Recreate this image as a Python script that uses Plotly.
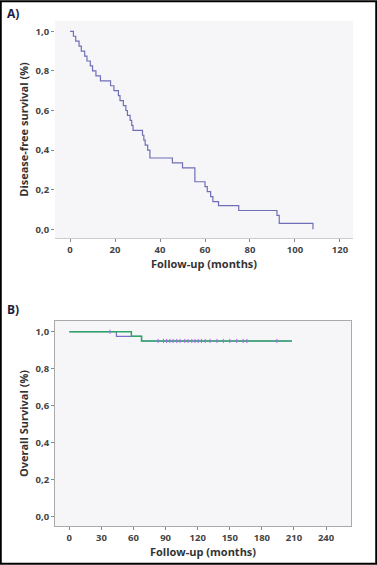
import plotly.graph_objects as go

# Panel A: disease-free survival (Kaplan-Meier steps)
dfs_months = [0, 1.5, 2.5, 4, 5, 6.5, 7.5, 9, 10, 11.5, 13.5, 18, 19.5, 21.5, 22.2, 23.7,
              24.8, 25.5, 26.7, 27.4, 28, 32.2, 32.8, 33.4, 34.5, 35.5, 45.5, 50, 55.5,
              60, 61, 62.5, 63.5, 66, 75, 92, 93, 108]
dfs_surv = [1.0, 0.975, 0.95, 0.925, 0.90, 0.875, 0.85, 0.825, 0.80, 0.775, 0.75, 0.725,
            0.70, 0.675, 0.65, 0.625, 0.60, 0.575, 0.55, 0.525, 0.50, 0.475, 0.45, 0.425,
            0.40, 0.36, 0.335, 0.31, 0.24, 0.215, 0.19, 0.165, 0.14, 0.12, 0.095, 0.07,
            0.03, 0.0]

# Panel B: overall survival, two overlapping curves
os_green_months = [0, 58, 67.5, 208]
os_green_surv = [1.0, 0.975, 0.95, 0.95]
os_purple_months = [0, 44, 67.5, 208]
os_purple_surv = [1.0, 0.975, 0.95, 0.95]
censor_months = [38, 83, 88, 91, 94, 97, 100.5, 103.5, 108, 111, 114.5, 117.5, 120.5,
                 123.5, 127, 131.5, 138, 144, 150, 156.5, 162.5, 166, 194]
censor_surv = [1.0] + [0.95] * 22

a_xticks = [0, 20, 40, 60, 80, 100, 120]
b_xticks = [0, 30, 60, 90, 120, 150, 180, 210, 240]
y_ticks = [0.0, 0.2, 0.4, 0.6, 0.8, 1.0]

W, H = 377, 565
def px(v, total):
    return v / total

FONT = "Open Sans"
TICKFONT = dict(family=FONT, size=9.5, color="#444444", weight="bold")
TITLEFONT = dict(family=FONT, size=11, color="#333333", weight="bold")
PURPLE = "#6f6fb8"
GREEN = "#2fa56a"
BG = "#f6f6f8"

fig = go.Figure()

fig.add_trace(go.Scatter(x=dfs_months, y=dfs_surv, mode="lines", line_shape="hv",
                         line=dict(color=PURPLE, width=1.2), xaxis="x", yaxis="y",
                         showlegend=False))

fig.add_trace(go.Scatter(x=os_purple_months, y=os_purple_surv, mode="lines", line_shape="hv",
                         line=dict(color="#7c6fc6", width=1.2), xaxis="x2", yaxis="y2",
                         showlegend=False))
fig.add_trace(go.Scatter(x=os_green_months, y=os_green_surv, mode="lines", line_shape="hv",
                         line=dict(color=GREEN, width=1.5), xaxis="x2", yaxis="y2",
                         showlegend=False))
fig.add_trace(go.Scatter(x=censor_months, y=censor_surv, mode="markers",
                         marker=dict(symbol="line-ns-open", size=3,
                                     line=dict(color="#2a6a6a", width=1)),
                         xaxis="x2", yaxis="y2", showlegend=False))

axcommon = dict(showgrid=False, zeroline=False, ticks="outside", ticklen=3, tickwidth=1,
                tickcolor="#888888", tickfont=TICKFONT)

fig.update_layout(
    width=W, height=H,
    margin=dict(l=0, r=0, t=0, b=0),
    paper_bgcolor="white",
    separators=",.",
    xaxis=dict(domain=[px(55, W), px(353, W)], range=[-6.7, 125.8], anchor="y",
               tickvals=a_xticks, showline=True, linecolor="#cccccc", linewidth=1,
               title=dict(text="Follow-up (months)", font=TITLEFONT, standoff=4), **axcommon),
    yaxis=dict(domain=[1 - px(238, H), 1 - px(21, H)], range=[-0.044, 1.052], anchor="x",
               tickvals=y_ticks, tickformat=".1f", showline=False,
               title=dict(text="Disease-free survival (%)", font=TITLEFONT, standoff=4),
               **axcommon),
    xaxis2=dict(domain=[px(55, W), px(351, W)], range=[-13.4, 263.3], anchor="y2",
                tickvals=b_xticks, showline=True, mirror=True, linecolor="#aaaaaa",
                linewidth=1,
                title=dict(text="Follow-up (months)", font=TITLEFONT, standoff=2), **axcommon),
    yaxis2=dict(domain=[1 - px(526, H), 1 - px(321, H)], range=[-0.05, 1.058], anchor="x2",
                tickvals=y_ticks, tickformat=".1f", showline=True, mirror=True,
                linecolor="#aaaaaa", linewidth=1,
                title=dict(text="Overall Survival (%)", font=TITLEFONT, standoff=4),
                **axcommon),
    plot_bgcolor=BG,
)

fig.add_annotation(text="<b>A)</b>", x=px(5, W), y=1 - px(3, H), xref="paper", yref="paper",
                   xanchor="left", yanchor="top", showarrow=False,
                   font=dict(family=FONT, size=12, color="#1c1c3c"))
fig.add_annotation(text="<b>B)</b>", x=px(5, W), y=1 - px(299, H), xref="paper", yref="paper",
                   xanchor="left", yanchor="top", showarrow=False,
                   font=dict(family=FONT, size=12, color="#1c1c3c"))

fig.add_shape(type="rect", xref="paper", yref="paper", x0=0.002, x1=0.998, y0=0.002, y1=0.998,
              line=dict(color="black", width=2))

fig.write_html("out.html", config={"displayModeBar": False},
               post_script="document.body.style.margin='0';document.body.style.overflow='hidden';")
